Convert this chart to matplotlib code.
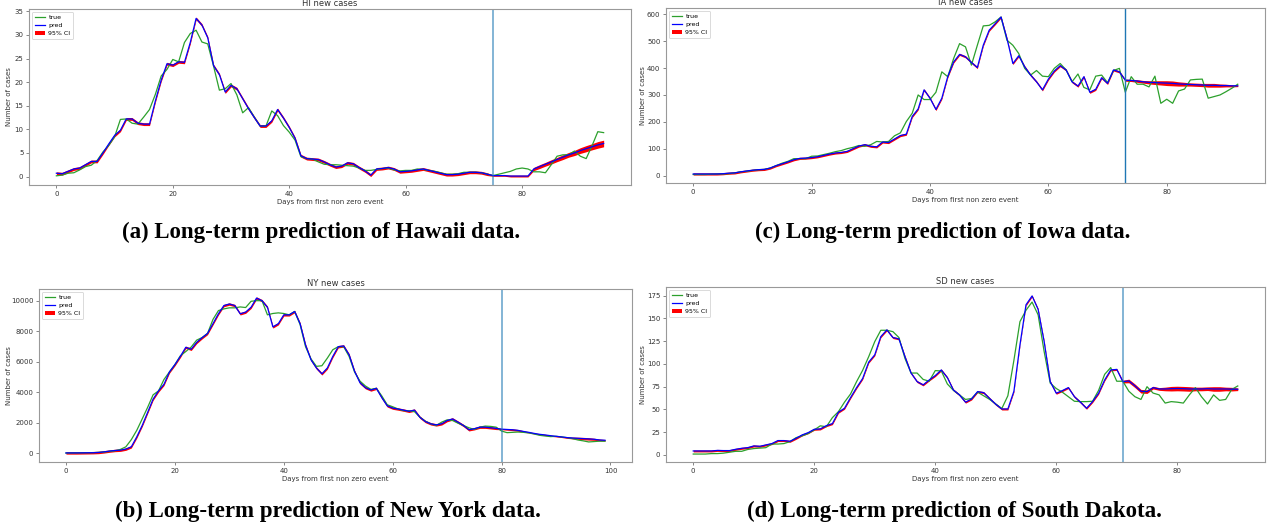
import numpy as np
import matplotlib
matplotlib.use("Agg")
import matplotlib.pyplot as plt

W, H = 1267, 527

# ---- data (days from first non zero event) ----
hi_true = [0.15, 0.3, 0.7, 0.8, 1.4, 2.1, 2.4, 3.4, 5.2, 6.6, 8.4, 12.1, 12.2, 11.3, 11.1, 12.6,
           14.2, 17.4, 21.3, 22.7, 24.8, 24.3, 28.4, 30.3, 31.0, 28.5, 28.1, 23.4, 18.3, 18.6,
           19.7, 17.3, 13.5, 14.6, 12.6, 10.7, 10.7, 13.9, 12.9, 10.8, 9.4, 7.7, 4.2, 3.8, 3.7,
           3.1, 2.6, 2.5, 2.5, 2.4, 2.3, 2.2, 1.8, 1.3, 1.3, 1.5, 1.7, 1.8, 1.4, 1.2, 1.3, 1.3,
           1.6, 1.5, 1.3, 1.1, 0.8, 0.5, 0.5, 0.6, 0.9, 0.9, 0.9, 0.8, 0.5, 0.2, 0.5, 0.8, 1.1,
           1.6, 1.8, 1.6, 1.0, 1.0, 0.8, 2.5, 4.3, 4.6, 4.6, 5.4, 4.3, 3.8, 6.5, 9.5, 9.3]
hi_pred = [0.7, 0.6, 1.1, 1.6, 1.8, 2.5, 3.2, 3.2, 5.0, 6.9, 8.7, 9.8, 12.2, 12.2, 11.3, 11.1,
           11.1, 16.0, 20.4, 23.9, 23.6, 24.3, 24.2, 28.4, 33.5, 32.1, 29.4, 23.5, 21.6, 17.9,
           19.3, 18.6, 16.5, 14.4, 12.5, 10.7, 10.7, 11.8, 14.2, 12.4, 10.4, 8.1, 4.4, 3.8, 3.7,
           3.6, 3.1, 2.5, 2.0, 2.2, 2.9, 2.7, 1.9, 1.2, 0.3, 1.6, 1.7, 1.9, 1.6, 1.0, 1.1, 1.2,
           1.4, 1.6, 1.3, 1.0, 0.7, 0.4, 0.4, 0.5, 0.7, 0.9, 0.9, 0.8, 0.5, 0.2, 0.2, 0.2, 0.1,
           0.1, 0.1, 0.1, 1.6, 2.1, 2.6, 3.1, 3.6, 4.1, 4.6, 5.0, 5.5, 5.9, 6.3, 6.7, 7.0]
hi_split = 75
hi_ci_fit = 0.3
hi_ci_fc = [0.15, 0.15, 0.15, 0.2, 0.2, 0.2, 0.2, 0.35, 0.4, 0.4, 0.45, 0.45, 0.5, 0.5, 0.55,
            0.6, 0.65, 0.65, 0.7, 0.7]

ia_true = [4, 4, 4, 5, 6, 6, 7, 10, 14, 16, 19, 22, 23, 28, 37, 46, 53, 63, 63, 63, 72, 73, 78,
           83, 89, 93, 100, 105, 112, 109, 115, 127, 125, 127, 148, 159, 201, 232, 300, 283, 283,
           310, 386, 368, 436, 491, 479, 411, 485, 557, 559, 572, 590, 504, 485, 454, 399, 374,
           391, 370, 368, 399, 417, 393, 349, 378, 328, 319, 370, 374, 346, 391, 399, 310, 368,
           340, 340, 330, 370, 269, 284, 269, 315, 322, 356, 358, 359, 288, 294, 300, 312, 325, 340]
ia_pred = [6, 6, 6, 6, 6, 7, 9, 10, 14, 17, 20, 22, 23, 28, 37, 44, 51, 59, 64, 65, 67, 70, 75,
           80, 84, 86, 90, 100, 110, 115, 109, 107, 125, 123, 136, 149, 154, 220, 248, 319, 288,
           246, 288, 368, 423, 451, 442, 421, 402, 485, 541, 565, 590, 510, 417, 446, 405, 374,
           349, 319, 359, 389, 409, 393, 349, 333, 368, 310, 321, 364, 343, 393, 386, 355, 354,
           352, 349, 347, 346, 345, 344, 343, 341, 340, 339, 338, 337, 336, 336, 335, 335, 334, 334]
ia_split = 73
ia_ci_fit = 4
ia_ci_fc = [4, 4, 5, 5, 6, 7, 8, 9, 9, 8, 7, 6, 6, 6, 7, 7, 6, 5, 4, 3]

ny_true = [20, 30, 35, 40, 45, 50, 65, 90, 130, 170, 260, 430, 900, 1510, 2260, 3020, 3840, 4100,
           4850, 5340, 5820, 6400, 6680, 6980, 7430, 7600, 7870, 8790, 9370, 9480, 9550, 9550,
           9610, 9570, 9980, 10020, 10020, 9090, 9180, 9220, 9180, 9090, 9310, 8450, 7000, 6200,
           5710, 5750, 6250, 6800, 7000, 7000, 6360, 5340, 4740, 4420, 4200, 4270, 3770, 3190,
           3060, 2910, 2800, 2800, 2740, 2370, 2110, 1940, 1830, 2050, 2200, 2155, 1980, 1830,
           1680, 1570, 1720, 1790, 1770, 1720, 1465, 1360, 1380, 1400, 1380, 1340, 1270, 1185,
           1140, 1100, 1120, 1080, 1035, 970, 880, 820, 750, 775, 800, 800]
ny_pred = [30, 30, 30, 35, 40, 45, 60, 100, 150, 190, 210, 280, 430, 1080, 1830, 2690, 3560, 4100,
           4530, 5340, 5820, 6360, 6960, 6830, 7280, 7590, 7870, 8510, 9160, 9700, 9800, 9700,
           9160, 9270, 9590, 10190, 10020, 9590, 8300, 8510, 9090, 9090, 9310, 8510, 7110, 6140,
           5600, 5220, 5600, 6360, 7000, 7050, 6470, 5390, 4630, 4310, 4160, 4270, 3660, 3120,
           2970, 2910, 2840, 2760, 2840, 2370, 2090, 1940, 1870, 1940, 2155, 2260, 2050, 1830,
           1550, 1620, 1720, 1720, 1680, 1640, 1590, 1570, 1550, 1510, 1440, 1380, 1310, 1250,
           1210, 1160, 1120, 1080, 1035, 1010, 990, 970, 950, 925, 880, 860]
ny_split = 80
ny_ci_fit = 80
ny_ci_fc = [40, 50, 60, 60, 50, 40, 40, 40, 40, 40, 40, 40, 50, 60, 70, 80, 80, 70, 60, 50]

sd_true = [1, 1, 1, 1.5, 1.5, 2, 3, 4, 4, 6, 7, 7.5, 8, 12, 12, 12.5, 14.7, 19, 21, 23.5, 27.5,
           32, 31, 41, 47.6, 58, 67, 80.6, 93, 108, 124.5, 137, 137, 135.5, 129, 106, 90, 90, 83,
           81, 92.7, 92.3, 78, 71, 66, 61, 62, 69, 65, 61, 56, 51, 65, 104, 146.5, 159, 168, 154,
           113.5, 79, 73, 69, 64, 59, 58.6, 58.6, 59, 71, 88.6, 96, 81, 81, 70, 64, 61, 75, 68,
           66, 57, 58.6, 58, 57, 66, 74, 64, 56, 66, 60, 61, 72, 75.8]
sd_pred = [4.4, 4.4, 4.4, 4.4, 5, 4.8, 4.8, 6.2, 7.3, 8, 9.9, 9.5, 11, 12.5, 15.8, 15.8, 15, 18.3,
           22, 24.5, 28.2, 28.6, 32.2, 34.4, 47, 51.3, 63, 74, 84, 102, 110, 130, 137.4, 129,
           127.5, 108, 90, 80.6, 77, 82.4, 87.2, 93.4, 85, 71.4, 66, 58, 61.5, 69.6, 68.5, 62,
           55.7, 50.5, 50.5, 70, 121, 165, 174.7, 160, 124.5, 80.6, 67.8, 70.7, 74, 64, 58, 51.3,
           58.6, 67.8, 82.4, 93.4, 94, 80.6, 81.3, 76, 70, 69.6, 74, 72.5, 72.5, 72.8, 73, 72.8,
           72.5, 72.5, 72.5, 72.8, 72.5, 72.5, 72.5, 72.3, 72.2]
sd_split = 71
sd_ci_fit = 1.1
sd_ci_fc = [1.5, 2, 2, 2, 2, 1.5, 1.5, 2, 2.5, 2.5, 2.5, 2.5, 2, 2, 2, 2.5, 2.5, 2, 2, 1.5]

captions = ["(a) Long-term prediction of Hawaii data.",
            "(c) Long-term prediction of Iowa data.",
            "(b) Long-term prediction of New York data.",
            "(d) Long-term prediction of South Dakota."]


def px_axes(fig, left, top, right, bottom):
    # pixel box (from top-left) -> figure fraction axes
    return fig.add_axes([left / W, 1 - bottom / H, (right - left) / W, (bottom - top) / H])


def draw_panel(ax, title, true, pred, split, ci_fit, ci_fc, vline_kw, ylabel_px):
    days = np.arange(len(true))
    pred = np.asarray(pred, dtype=float)
    ci = np.full(len(pred), float(ci_fit))
    ci[split:] = ci_fc
    l_true, = ax.plot(days, true, color="#2ca02c", lw=0.9, label="true")
    band = ax.fill_between(days, pred - ci, pred + ci, color="red", lw=0, label="95% CI")
    l_pred, = ax.plot(days, pred, color="blue", lw=0.9, label="pred")
    ax.axvline(split, **vline_kw)
    ax.set_title(title, fontsize=6, pad=2.5, color="#333333")
    ax.set_xlabel("Days from first non zero event", fontsize=5, labelpad=1.5, color="#333333")
    ax.set_ylabel("Number of cases", fontsize=5, color="#333333")
    # put the y label where the reference has it (pixel x of the label centre)
    bbox = ax.get_position()
    ax.yaxis.set_label_coords((ylabel_px / W - bbox.x0) / bbox.width, 0.5)
    ax.tick_params(labelsize=5, length=2, width=0.5, pad=2, colors="#555555",
                   labelcolor="#333333")
    for sp in ax.spines.values():
        sp.set_color("#999999")
        sp.set_linewidth(0.8)
    leg = ax.legend([l_true, l_pred, band], ["true", "pred", "95% CI"], loc="upper left",
                    fontsize=4.5, handlelength=1.6, borderpad=0.45, labelspacing=0.45,
                    handletextpad=0.6, borderaxespad=0.45, framealpha=1)
    leg.get_frame().set_linewidth(0.5)
    leg.get_frame().set_edgecolor("#cccccc")


fig = plt.figure(figsize=(W / 100, H / 100), dpi=100)

soft_vline = dict(color="#1f77b4", lw=1.4, alpha=0.55)
hard_vline = dict(color="#1f77b4", lw=1.0)

ax_a = px_axes(fig, 29, 9, 631, 185)
draw_panel(ax_a, "HI new cases", hi_true, hi_pred, hi_split, hi_ci_fit, hi_ci_fc,
           soft_vline, 12)

ax_c = px_axes(fig, 666, 8, 1265, 183)
draw_panel(ax_c, "IA new cases", ia_true, ia_pred, ia_split, ia_ci_fit, ia_ci_fc,
           hard_vline, 646)

ax_b = px_axes(fig, 39, 289, 632, 462)
draw_panel(ax_b, "NY new cases", ny_true, ny_pred, ny_split, ny_ci_fit, ny_ci_fc,
           soft_vline, 12)

ax_d = px_axes(fig, 666, 287, 1265, 462)
draw_panel(ax_d, "SD new cases", sd_true, sd_pred, sd_split, sd_ci_fit, sd_ci_fc,
           soft_vline, 646)

cap_pos = [(321, 232), (943, 232), (328, 511), (954, 511)]
for text, (cx, cy) in zip(captions, cap_pos):
    fig.text(cx / W, 1 - cy / H, text, ha="center", va="center", fontsize=16.5,
             fontweight="bold", family=["Liberation Serif", "DejaVu Serif"])

fig.savefig("out.png", dpi=100)
